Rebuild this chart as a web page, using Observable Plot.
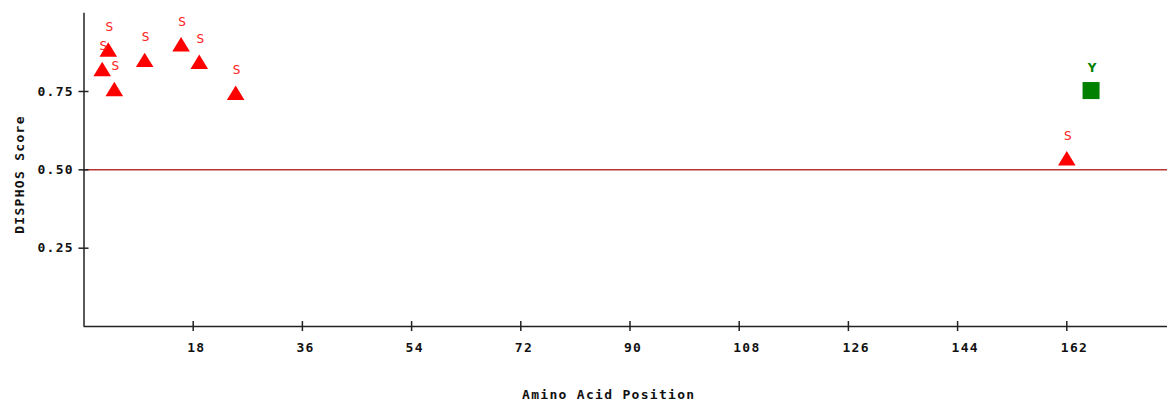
<!DOCTYPE html>
<html><head><meta charset="utf-8">
<script src="https://cdn.jsdelivr.net/npm/d3@7"></script>
<script src="https://cdn.jsdelivr.net/npm/@observablehq/plot@0.6"></script>
<style>
body{margin:0;background:#fff}
g[aria-label="x-axis tick label"] text, g[aria-label="y-axis tick label"] text, .axis-title text {letter-spacing:1.3px}
</style>
</head><body><div id="chart"></div>
<script>
const positions = [3, 4, 5, 10, 16, 19, 25, 162];
const scores = [0.822, 0.884, 0.758, 0.851, 0.901, 0.845, 0.746, 0.537];
const residues = ["S", "S", "S", "S", "S", "S", "S", "S"];
const tyrPositions = [166];
const tyrScores = [0.753];
const tyrResidues = ["Y"];
const xTicks = [18, 36, 54, 72, 90, 108, 126, 144, 162];
const yTicks = [0.25, 0.5, 0.75];
const threshold = 0.5;
const xLabel = "Amino Acid Position";
const yLabel = "DISPHOS Score";

const ser = positions.map((p, i) => ({pos: p, score: scores[i], res: residues[i]}));
const tyr = tyrPositions.map((p, i) => ({pos: p, score: tyrScores[i], res: tyrResidues[i]}));

const triangle = {draw(ctx) { const w = 8.8, h = 7.2; ctx.moveTo(0, -h); ctx.lineTo(w, h); ctx.lineTo(-w, h); ctx.closePath(); }};
const mono = "'DejaVu Sans Mono', monospace";
const axisColor = "#222";

const plot = Plot.plot({
  width: 1167, height: 402,
  marginLeft: 83.5, marginRight: 0, marginTop: 12.65, marginBottom: 75.95,
  x: {domain: [0, 178.6]},
  y: {domain: [0, 1]},
  style: {fontFamily: mono, background: "white", color: "#111"},
  marks: [
    Plot.ruleY([threshold], {stroke: "#b83535", strokeWidth: 1.5}),
    Plot.ruleX([0], {stroke: axisColor, strokeWidth: 1.5}),
    Plot.ruleY([0], {stroke: axisColor, strokeWidth: 1.5}),
    Plot.ruleX(xTicks, {x: d => d, y1: 0, y2: 0, insetTop: -5, insetBottom: -5, stroke: axisColor, strokeWidth: 1.5}),
    Plot.ruleY(yTicks, {y: d => d, x1: 0, x2: 0, insetLeft: -5, insetRight: -5, stroke: axisColor, strokeWidth: 1.5}),
    Plot.axisX(xTicks, {tickSize: 0, tickPadding: 16, textAnchor: "start", dx: -6, fontWeight: "bold", fontSize: 13, label: null, tickFormat: d => String(d), fill: "#111"}),
    Plot.axisY(yTicks, {tickSize: 0, tickPadding: 10, fontWeight: "bold", fontSize: 13, label: null, tickFormat: d3.format(".2f"), fill: "#111"}),
    Plot.dot(ser, {x: "pos", y: "score", symbol: triangle, fill: "#ff0000", stroke: null}),
    Plot.text(ser, {x: "pos", y: "score", text: "res", dy: -22.5, dx: 1, fill: "#ff2020", fontSize: 12, fontFamily: "'DejaVu Sans', sans-serif"}),
    Plot.dot(tyr, {x: "pos", y: "score", symbol: "square", r: 9.6, fill: "#008000", stroke: null}),
    Plot.text(tyr, {x: "pos", y: "score", text: "res", dy: -22.5, dx: 1, fill: "#008000", fontSize: 12, fontWeight: "bold", fontFamily: "'DejaVu Sans', sans-serif"}),
    Plot.text([xLabel], {frameAnchor: "bottom", textAnchor: "middle", dx: -17, dy: 67.8, lineAnchor: "middle", fontWeight: "bold", fontSize: 13, fill: "#111", className: "axis-title"}),
    Plot.text([yLabel], {frameAnchor: "left", textAnchor: "middle", rotate: -90, dx: -64.5, dy: 4.6, lineAnchor: "middle", fontWeight: "bold", fontSize: 13, fill: "#111", className: "axis-title"})
  ]
});
document.getElementById("chart").appendChild(plot);
</script>
</body></html>
